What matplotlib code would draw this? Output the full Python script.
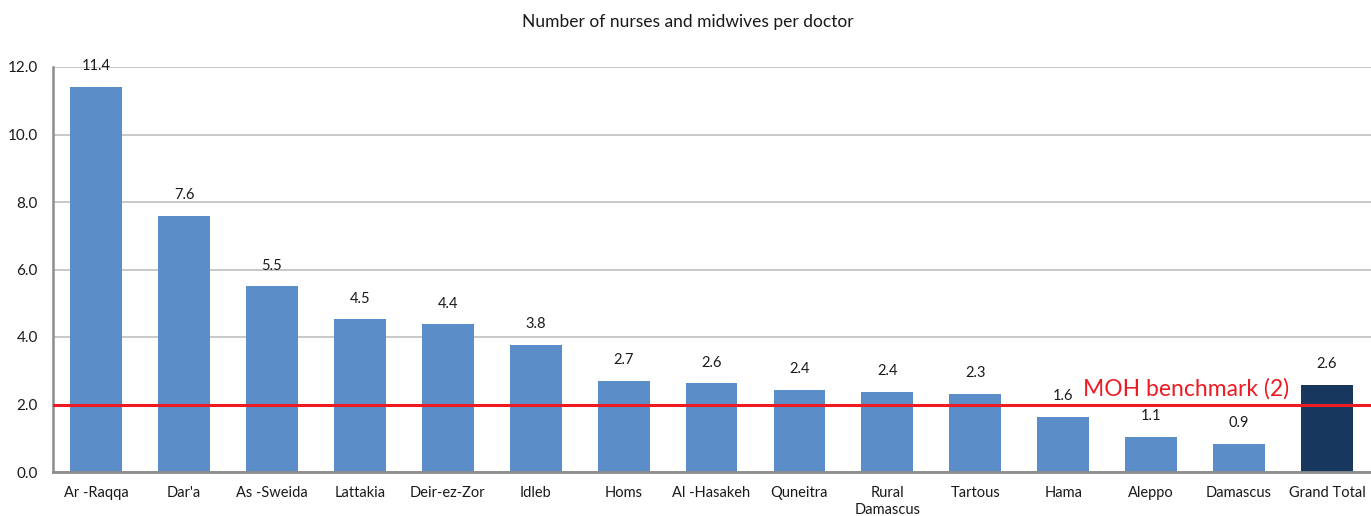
import matplotlib
matplotlib.use("Agg")
import matplotlib.pyplot as plt

categories = ["Ar -Raqqa", "Dar'a", "As -Sweida", "Lattakia", "Deir-ez-Zor", "Idleb",
              "Homs", "Al -Hasakeh", "Quneitra", "Rural\nDamascus", "Tartous", "Hama",
              "Aleppo", "Damascus", "Grand Total"]
values = [11.42, 7.6, 5.5, 4.52, 4.38, 3.77, 2.7, 2.63, 2.43, 2.37, 2.31, 1.63, 1.04, 0.83, 2.58]
value_labels = ["11.4", "7.6", "5.5", "4.5", "4.4", "3.8", "2.7", "2.6", "2.4", "2.4",
                "2.3", "1.6", "1.1", "0.9", "2.6"]
benchmark = 2.0
benchmark_label = "MOH benchmark (2)"
title = "Number of nurses and midwives per doctor"
yticks = [0, 2, 4, 6, 8, 10, 12]

plt.rcParams['font.family'] = ['Lato', 'DejaVu Sans']

fig = plt.figure(figsize=(13.71, 5.16), dpi=100)
ax = fig.add_axes([53/1371, 44/516, 1 - 53/1371, (472-67)/516])

colors = ["#5B8DC8"] * (len(categories) - 1) + ["#17375E"]
x = list(range(len(categories)))
bars = ax.bar(x, values, width=0.59, color=colors, zorder=2)

for xi, v, lab in zip(x, values, value_labels):
    ax.annotate(lab, (xi, v), xytext=(0, 12), textcoords="offset points",
                ha="center", va="baseline", fontsize=10.5, color="#1a1a1a",
                annotation_clip=False)

ax.axhline(benchmark, color="#ED1C24", lw=2.2, zorder=3)
ax.text(11.23, 2.25, benchmark_label, color="#ED1C24", fontsize=16.5,
        ha="left", va="baseline", zorder=4)

ax.set_xlim(-0.49, len(categories) - 0.5)
ax.set_ylim(0, 12)
ax.set_yticks(yticks)
ax.set_yticklabels([f"{t:.1f}" for t in yticks], fontsize=11, color="#1a1a1a")
ax.set_xticks(x)
ax.set_xticklabels(categories, fontsize=10.5, color="#1a1a1a", linespacing=1.3)
ax.tick_params(axis="x", length=0, pad=10)
ax.tick_params(axis="y", length=0, pad=11)
ax.yaxis.grid(True, color="#BFBFBF", lw=1.2, zorder=0)
ax.set_axisbelow(True)
for s in ["top", "right"]:
    ax.spines[s].set_visible(False)
ax.spines["left"].set_color("#8C8C8C")
ax.spines["left"].set_linewidth(1.8)
ax.spines["bottom"].set_color("#8C8C8C")
ax.spines["bottom"].set_linewidth(2.0)

fig.text(688/1371, 1 - 22/516, title, ha="center", va="center", fontsize=12.5, color="#1a1a1a")

fig.savefig("out.png", dpi=100)
